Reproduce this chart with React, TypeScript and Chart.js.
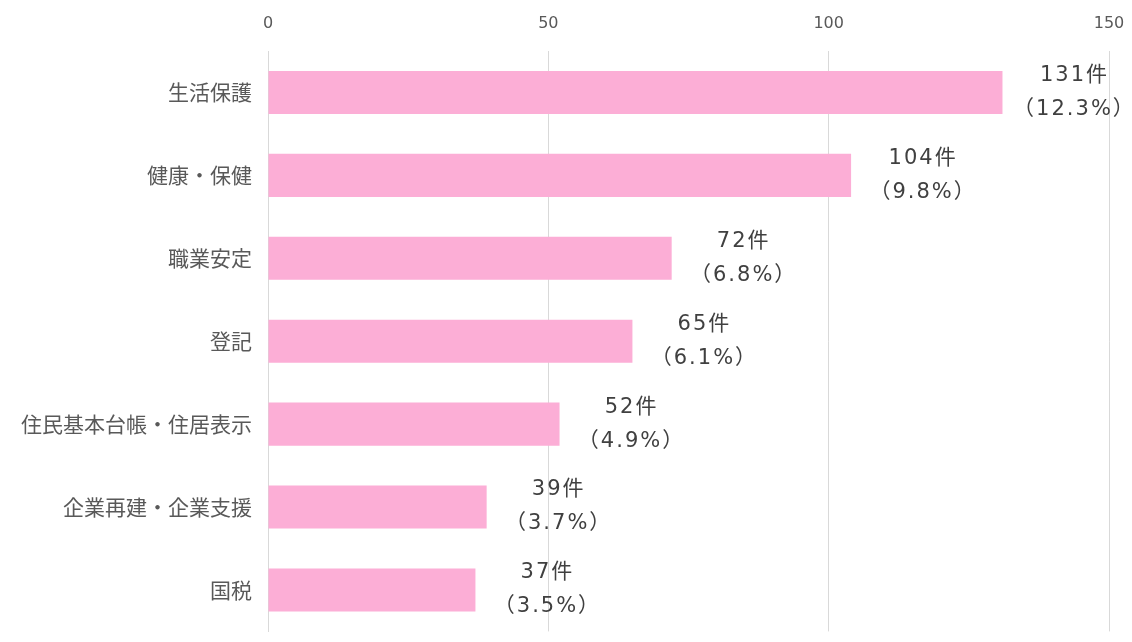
import React, { useEffect, useRef } from "react";
import { Chart, registerables } from "chart.js";

Chart.register(...registerables);

const categories = ["生活保護", "健康・保健", "職業安定", "登記", "住民基本台帳・住居表示", "企業再建・企業支援", "国税"];
const counts = [131, 104, 72, 65, 52, 39, 37];
const percents = ["12.3", "9.8", "6.8", "6.1", "4.9", "3.7", "3.5"];
const xTicks = [0, 50, 100, 150];

const CJK = "'Noto Sans CJK JP', sans-serif";
const NUM = "'DejaVu Sans', 'Noto Sans CJK JP', sans-serif";

const labelPlugin = {
  id: "barLabels",
  afterDatasetsDraw(chart: any) {
    const ctx = chart.ctx;
    const meta = chart.getDatasetMeta(0);
    ctx.save();
    ctx.fillStyle = "#404040";
    ctx.font = `21px ${NUM}`;
    (ctx as any).letterSpacing = "2px";
    ctx.textAlign = "center";
    ctx.textBaseline = "middle";
    meta.data.forEach((bar: any, i: number) => {
      const cx = bar.x + 72;
      ctx.fillText(`${counts[i]}件`, cx, bar.y - 17);
      ctx.fillText(`（${percents[i]}%）`, cx, bar.y + 17);
    });
    ctx.restore();
  },
};

export default function App() {
  const ref = useRef<HTMLCanvasElement>(null);
  useEffect(() => {
    if (!ref.current) return;
    const chart = new Chart(ref.current, {
      type: "bar",
      data: {
        labels: categories,
        datasets: [
          {
            data: counts,
            backgroundColor: "#FCAED6",
            borderWidth: 0,
            categoryPercentage: 1,
            barPercentage: 0.52,
          },
        ],
      },
      options: {
        indexAxis: "y",
        animation: false,
        responsive: true,
        maintainAspectRatio: false,
        layout: { padding: { left: 0, right: 23, top: 0, bottom: 12 } },
        plugins: { legend: { display: false }, tooltip: { enabled: false } },
        scales: {
          x: {
            position: "top",
            min: 0,
            max: 150,
            afterBuildTicks: (scale: any) => {
              scale.ticks = xTicks.map((v) => ({ value: v }));
            },
            afterFit: (scale: any) => {
              scale.height = 51;
              scale.paddingRight = 0;
            },
            ticks: {
              color: "#595959",
              font: { family: NUM, size: 16 },
              padding: 18,
              maxRotation: 0,
            },
            grid: { color: "#D9D9D9", lineWidth: 1, drawTicks: false },
            border: { display: false },
          },
          y: {
            afterFit: (scale: any) => {
              scale.width = 268;
            },
            ticks: {
              color: "#595959",
              font: { family: CJK, size: 21 },
              padding: 16,
            },
            grid: { display: false, drawTicks: false },
            border: { display: true, color: "#D9D9D9" },
          },
        },
      },
      plugins: [labelPlugin],
    });
    return () => chart.destroy();
  }, []);
  return (
    <div style={{ position: "absolute", left: 0, top: 0, width: 1132, height: 660 }}>
      <canvas ref={ref} />
    </div>
  );
}
